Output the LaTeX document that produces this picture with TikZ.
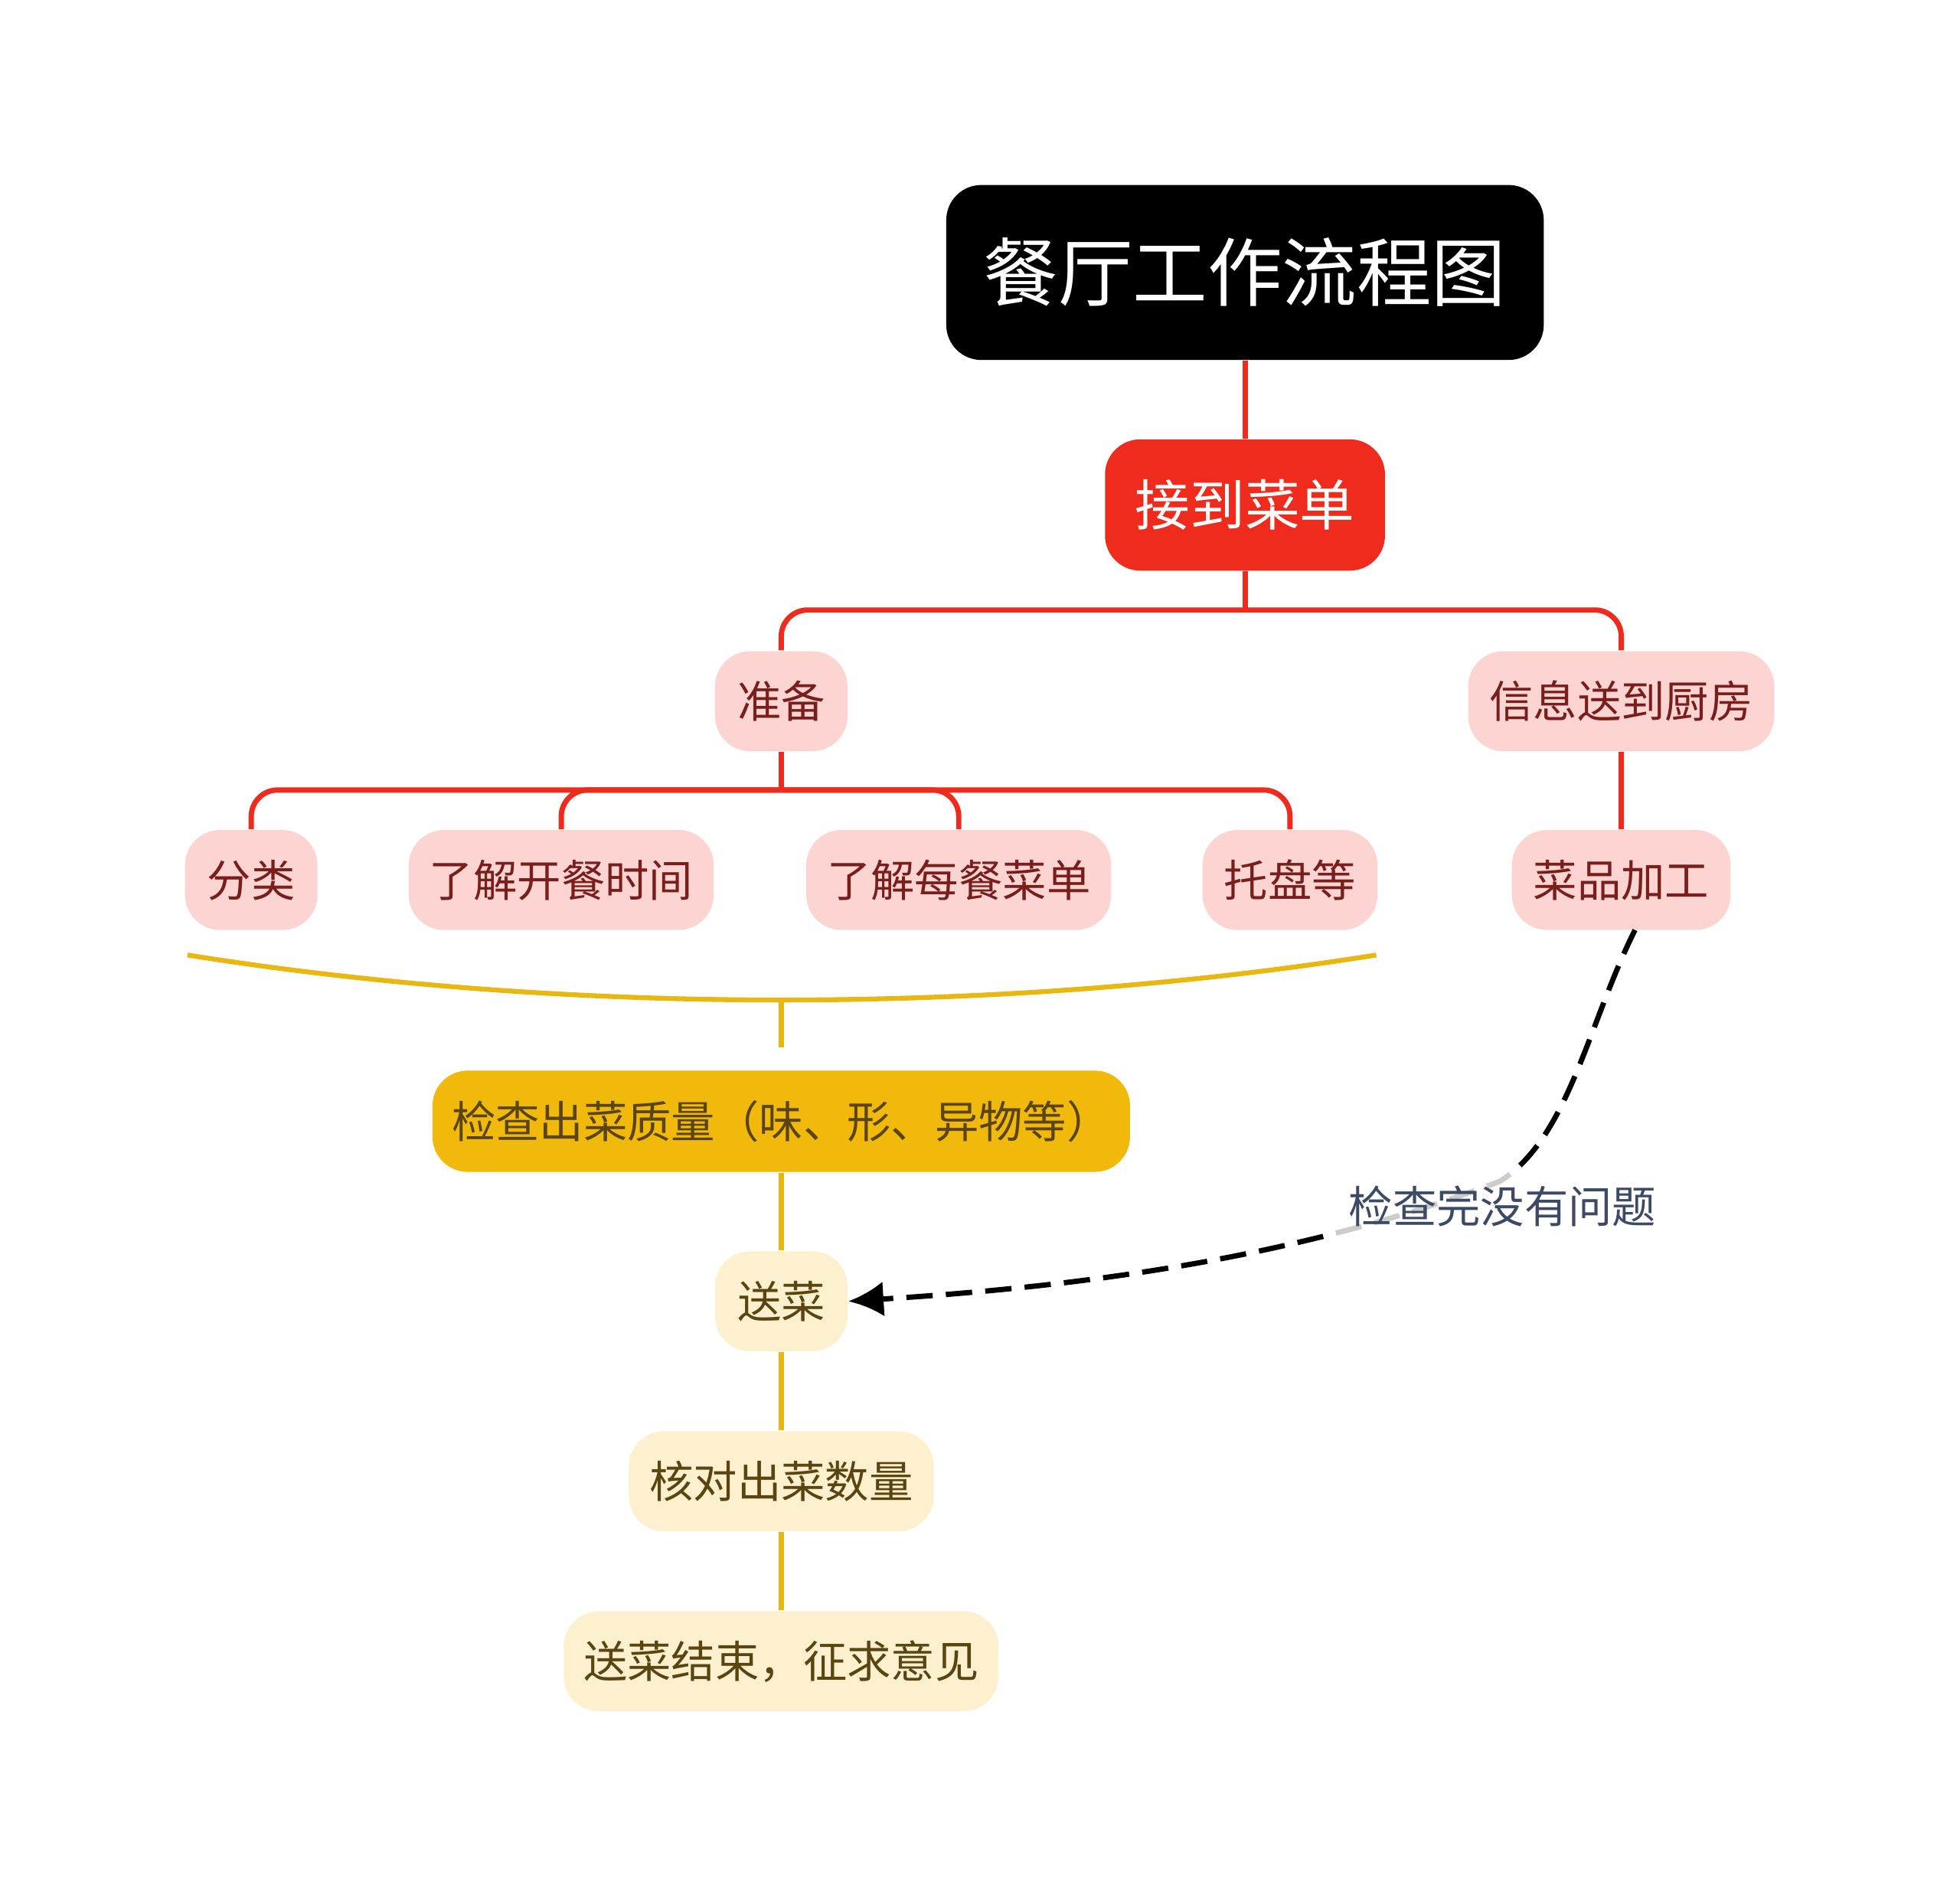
\documentclass[tikz,border=0pt]{standalone}
\usepackage{fontspec}
\setmainfont{Noto Sans CJK SC}
\usetikzlibrary{positioning,arrows.meta}
\definecolor{topred}{HTML}{EE2B1C}
\definecolor{pinkbox}{HTML}{FCD5D3}
\definecolor{pinktext}{HTML}{7A1E1C}
\definecolor{goldbox}{HTML}{F0B90B}
\definecolor{creambox}{HTML}{FCF0CF}
\definecolor{creamtext}{HTML}{5A4510}
\definecolor{linkyellow}{HTML}{E8B712}
\definecolor{labelgray}{HTML}{3D4A66}
\tikzset{
  pinknode/.style={fill=pinkbox, text=pinktext, rounded corners=8pt, minimum height=0.8cm, inner xsep=0.15cm, font=\fontsize{10}{12}\selectfont},
  creamnode/.style={fill=creambox, text=creamtext, rounded corners=8pt, minimum height=0.8cm, inner xsep=0.15cm, font=\fontsize{10}{12}\selectfont},
  redlink/.style={draw=topred, line width=1.2pt, rounded corners=6pt},
  yellowlink/.style={draw=linkyellow, line width=1.1pt}
}
\begin{document}
\begin{tikzpicture}[x=0.1mm, y=-0.1mm]
\useasboundingbox (0,0) rectangle (1568,1518);

% title and first step
\node[fill=black, text=white, rounded corners=8pt, minimum width=4.78cm, minimum height=1.4cm, font=\fontsize{17}{20}\selectfont] (title) at (996,218) {餐厅工作流程图};
\node[fill=topred, text=white, rounded corners=8pt, minimum width=2.24cm, minimum height=1.05cm, font=\fontsize{12.5}{15}\selectfont] (order) at (996,404) {接到菜单};

% second level
\node[pinknode, minimum width=1.06cm] (prep) at (625,561) {准备};
\node[pinknode, minimum width=2.45cm] (send) at (1297,561) {信息送到厨房};

% third level
\node[pinknode, minimum width=1.06cm] (sort) at (201,704) {分类};
\node[pinknode, minimum width=2.44cm] (time) at (449,704) {了解开餐时间};
\node[pinknode, minimum width=2.44cm] (menu) at (767,704) {了解每餐菜单};
\node[pinknode, minimum width=1.4cm] (tray) at (1032,704) {托盘等};
\node[pinknode, minimum width=1.75cm] (cook) at (1297,704) {菜品加工};

% lower chain
\node[fill=goldbox, text=creamtext, rounded corners=8pt, minimum width=5.58cm, minimum height=0.81cm, inner xsep=0.15cm, font=\fontsize{10}{12}\selectfont] (check) at (625,897) {检查出菜质量（味、形、异物等）};
\node[creamnode, minimum width=1.06cm] (serve) at (625,1041) {送菜};
\node[creamnode, minimum width=2.44cm] (count) at (625,1185) {核对出菜数量};
\node[creamnode, minimum width=3.48cm] (finish) at (625,1329) {送菜结束，征求意见};
\coordinate (braceend) at (625,838);
\coordinate (fork) at (996,488);
\coordinate (subfork) at (625,632);

% red links
\draw[redlink] (title) -- (order);
\draw[redlink] (order.south) -- (fork);
\draw[redlink] (fork) -| (prep.north);
\draw[redlink] (fork) -| (send.north);
\draw[redlink] (send) -- (cook);
\draw[redlink] (prep.south) -- (subfork);
\draw[redlink] (subfork) -| (sort.north);
\draw[redlink] (subfork) -| (time.north);
\draw[redlink] (subfork) -| (menu.north);
\draw[redlink] (subfork) -| (tray.north);

% summary brace and yellow links
\draw[yellowlink] (150,764) .. controls (450,812) and (800,812) .. (1101,764);
\draw[yellowlink] (625,801) -- (braceend);
\draw[yellowlink] (check) -- (serve);
\draw[yellowlink] (serve) -- (count);
\draw[yellowlink] (count) -- (finish);

% dashed relation
\draw[dash pattern=on 6pt off 3pt, line width=1.2pt, -{Latex[length=8pt,width=8pt]}] (1308,744) .. controls (1270,820) and (1255,910) .. (1200,945) .. controls (1030,1010) and (850,1030) .. (serve.east);
\node[fill=white, fill opacity=0.8, text opacity=1, text=labelgray, font=\fontsize{10}{12}\selectfont] (ok) at (1202,965) {检查完没有问题};
\end{tikzpicture}
\end{document}
